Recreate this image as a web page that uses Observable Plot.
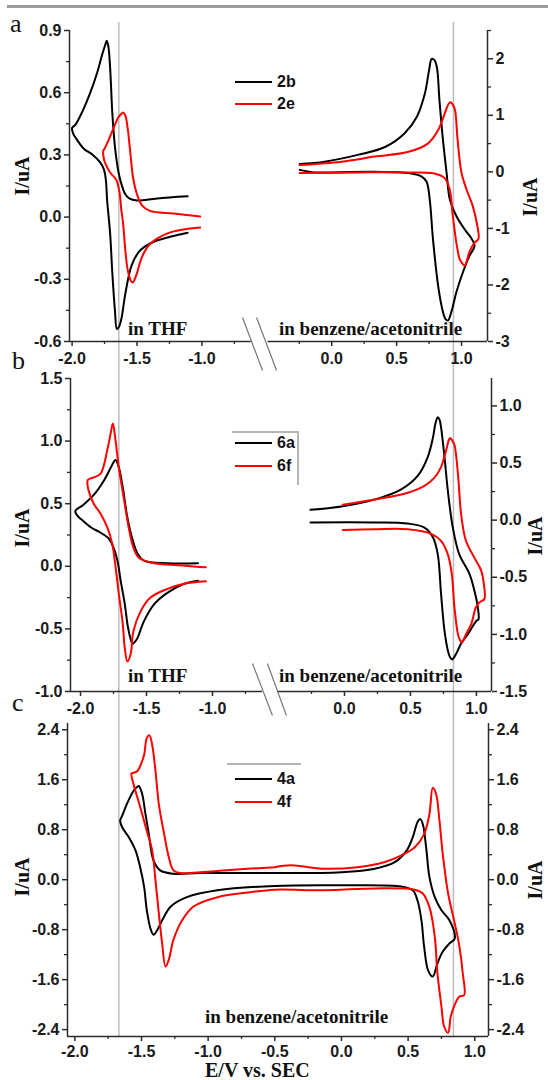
<!DOCTYPE html>
<html><head><meta charset="utf-8">
<script src="https://cdn.jsdelivr.net/npm/d3@7"></script>
<script src="https://cdn.jsdelivr.net/npm/@observablehq/plot@0.6"></script>
<style>
body{margin:0;background:#fff;}
#fig{position:relative;width:548px;height:1080px;overflow:hidden;background:#fff;}
.t{position:absolute;line-height:1;white-space:nowrap;color:#111;}
.sans{font-family:"Liberation Sans",Arial,sans-serif;font-weight:bold;}
.serif{font-family:"Liberation Serif","Times New Roman",serif;}
.ln{position:absolute;height:2px;}
</style></head><body><div id="fig"></div>
<script>
// ================= DATA =================
// reference lines (E, V)
const refLines = [-1.67, 0.84];

// ---- panel a ----
const a_xMajor = [-2.0, -1.5, -1.0, 0.0, 0.5, 1.0];
const a_xMinor = [-1.75, -1.25, -0.75, -0.25, 0.25, 0.75];
const a_yLMajor = [0.9, 0.6, 0.3, 0.0, -0.3, -0.6];
const a_yLMinor = [0.75, 0.45, 0.15, -0.15, -0.45];
const a_yRMajor = [2, 1, 0, -1, -2, -3];
const a_yRMinor = [2.5, 1.5, 0.5, -0.5, -1.5, -2.5];
const a_axisSegs = [{x1: -2.02, x2: -0.62}, {x1: -0.49, x2: 1.2}];
const a_breaks = [{x1: -0.687, y1: -0.484, x2: -0.533, y2: -0.74}, {x1: -0.579, y1: -0.484, x2: -0.425, y2: -0.74}];
// 2b (black) and 2e (red), THF side (left axis)
const a_2b_L = [[-1.11,0.10],[-1.345,0.09],[-1.50,0.08],[-1.56,0.09],[-1.59,0.11],[-1.625,0.17],[-1.645,0.225],[-1.67,0.34],[-1.69,0.50],[-1.707,0.72],[-1.72,0.82],[-1.733,0.85],[-1.745,0.83],[-1.77,0.78],[-1.81,0.69],[-1.86,0.60],[-1.92,0.51],[-1.975,0.445],[-2.0,0.43],[-1.99,0.40],[-1.975,0.385],[-1.91,0.33],[-1.84,0.30],[-1.785,0.265],[-1.755,0.23],[-1.74,0.18],[-1.73,0.08],[-1.707,-0.08],[-1.69,-0.27],[-1.67,-0.45],[-1.655,-0.54],[-1.64,-0.53],[-1.62,-0.49],[-1.59,-0.37],[-1.54,-0.23],[-1.475,-0.16],[-1.375,-0.12],[-1.245,-0.095],[-1.11,-0.075]];
const a_2e_L = [[-1.013,0.003],[-1.22,0.017],[-1.40,0.03],[-1.46,0.055],[-1.50,0.11],[-1.53,0.19],[-1.553,0.32],[-1.57,0.42],[-1.59,0.49],[-1.607,0.505],[-1.625,0.495],[-1.645,0.48],[-1.68,0.43],[-1.72,0.37],[-1.75,0.33],[-1.76,0.32],[-1.755,0.28],[-1.745,0.26],[-1.707,0.215],[-1.66,0.18],[-1.635,0.12],[-1.62,0.03],[-1.607,-0.03],[-1.59,-0.16],[-1.57,-0.26],[-1.545,-0.31],[-1.53,-0.315],[-1.515,-0.295],[-1.50,-0.27],[-1.46,-0.19],[-1.40,-0.13],[-1.27,-0.08],[-1.144,-0.06],[-1.013,-0.05]];
// benzene/acetonitrile side (right axis)
const a_2b_R = [[-0.247,0.14],[-0.054,0.18],[0.2,0.30],[0.41,0.44],[0.56,0.68],[0.655,0.97],[0.717,1.38],[0.75,1.8],[0.77,2.0],[0.79,1.98],[0.81,1.85],[0.83,1.26],[0.857,0.56],[0.885,-0.02],[0.91,-0.49],[0.96,-0.78],[1.025,-1.02],[1.08,-1.19],[1.10,-1.31],[1.06,-1.49],[1.01,-1.78],[0.96,-2.13],[0.925,-2.45],[0.895,-2.63],[0.875,-2.6],[0.857,-2.48],[0.82,-2.02],[0.78,-1.19],[0.755,-0.49],[0.73,-0.17],[0.69,-0.08],[0.59,-0.02],[0.33,0.0],[-0.05,-0.01],[-0.13,-0.01],[-0.247,0.035]];
const a_2e_R = [[-0.247,0.12],[0.075,0.18],[0.33,0.27],[0.585,0.35],[0.74,0.5],[0.82,0.74],[0.87,1.03],[0.90,1.2],[0.915,1.23],[0.935,1.18],[0.95,1.09],[0.97,0.56],[1.0,-0.02],[1.04,-0.32],[1.087,-0.61],[1.117,-0.9],[1.13,-1.19],[1.10,-1.25],[1.06,-1.42],[1.035,-1.62],[1.025,-1.66],[1.0,-1.6],[0.985,-1.54],[0.96,-1.25],[0.93,-0.72],[0.91,-0.32],[0.87,-0.11],[0.79,-0.03],[0.585,-0.01],[0.2,-0.01],[-0.247,-0.02]];

// ---- panel b ----
const b_xMajor = [-2.0, -1.5, -1.0, 0.0, 0.5, 1.0];
const b_xMinor = [-1.75, -1.25, -0.75, -0.25, 0.25, 0.75];
const b_yLMajor = [1.5, 1.0, 0.5, 0.0, -0.5, -1.0];
const b_yLMinor = [1.25, 0.75, 0.25, -0.25, -0.75];
const b_yRMajor = [1.0, 0.5, 0.0, -0.5, -1.0, -1.5];
const b_yRMinor = [0.75, 0.25, -0.25, -0.75, -1.25];
const b_axisSegs = [{x1: -2.076, x2: -0.621}, {x1: -0.508, x2: 1.114}];
const b_breaks = [{x1: -0.697, y1: -0.776, x2: -0.546, y2: -1.192}, {x1: -0.584, y1: -0.776, x2: -0.44, y2: -1.192}];
const b_6a_L = [[-1.11,0.024],[-1.34,0.024],[-1.52,0.045],[-1.567,0.10],[-1.605,0.21],[-1.645,0.39],[-1.68,0.63],[-1.71,0.79],[-1.734,0.85],[-1.75,0.83],[-1.77,0.79],[-1.82,0.69],[-1.90,0.57],[-1.98,0.49],[-2.04,0.44],[-2.02,0.40],[-2.0,0.38],[-1.92,0.31],[-1.85,0.27],[-1.785,0.22],[-1.75,0.15],[-1.72,0.045],[-1.696,-0.115],[-1.665,-0.30],[-1.64,-0.49],[-1.615,-0.60],[-1.605,-0.62],[-1.585,-0.60],[-1.567,-0.57],[-1.52,-0.44],[-1.44,-0.30],[-1.34,-0.21],[-1.215,-0.14],[-1.11,-0.115]];
const b_6f_L = [[-1.05,-0.008],[-1.215,0.005],[-1.47,0.03],[-1.56,0.07],[-1.60,0.15],[-1.635,0.31],[-1.67,0.53],[-1.71,0.79],[-1.734,1.0],[-1.755,1.14],[-1.772,1.06],[-1.797,0.93],[-1.848,0.74],[-1.90,0.71],[-1.945,0.69],[-1.94,0.61],[-1.90,0.50],[-1.848,0.42],[-1.797,0.31],[-1.76,0.18],[-1.734,-0.008],[-1.71,-0.22],[-1.68,-0.46],[-1.665,-0.65],[-1.645,-0.76],[-1.62,-0.70],[-1.60,-0.52],[-1.545,-0.36],[-1.47,-0.25],[-1.34,-0.18],[-1.215,-0.14],[-1.05,-0.12]];
const b_6a_R = [[-0.258,0.09],[-0.025,0.12],[0.227,0.18],[0.43,0.27],[0.556,0.39],[0.63,0.55],[0.67,0.72],[0.69,0.85],[0.707,0.90],[0.72,0.88],[0.732,0.81],[0.758,0.55],[0.783,0.26],[0.82,-0.06],[0.87,-0.30],[0.947,-0.47],[0.985,-0.62],[1.01,-0.76],[1.015,-0.87],[1.0,-0.88],[0.934,-1.0],[0.884,-1.08],[0.846,-1.17],[0.816,-1.22],[0.80,-1.20],[0.783,-1.14],[0.758,-0.97],[0.732,-0.65],[0.707,-0.30],[0.67,-0.15],[0.606,-0.065],[0.48,-0.03],[0.227,-0.02],[-0.258,-0.02]];
const b_6f_R = [[-0.013,0.134],[0.227,0.18],[0.48,0.24],[0.606,0.30],[0.68,0.37],[0.73,0.46],[0.77,0.61],[0.79,0.70],[0.80,0.72],[0.815,0.70],[0.833,0.66],[0.86,0.40],[0.884,0.05],[0.92,-0.18],[0.985,-0.33],[1.035,-0.44],[1.056,-0.56],[1.06,-0.69],[1.023,-0.72],[0.997,-0.76],[0.96,-0.91],[0.92,-1.0],[0.89,-1.07],[0.875,-1.05],[0.86,-1.0],[0.833,-0.76],[0.813,-0.47],[0.783,-0.30],[0.73,-0.18],[0.657,-0.12],[0.48,-0.08],[0.227,-0.08],[-0.013,-0.087]];

// ---- panel c ----
const c_xMajor = [-2.0, -1.5, -1.0, -0.5, 0.0, 0.5, 1.0];
const c_xMinor = [-1.75, -1.25, -0.75, -0.25, 0.25, 0.75];
const c_yMajor = [2.4, 1.6, 0.8, 0.0, -0.8, -1.6, -2.4];
const c_yMinor = [2.0, 1.2, 0.4, -0.4, -1.2, -2.0];
const c_4a = [[-0.50,0.106],[-1.06,0.106],[-1.26,0.095],[-1.36,0.15],[-1.41,0.31],[-1.445,0.73],[-1.47,1.05],[-1.495,1.37],[-1.52,1.50],[-1.54,1.47],[-1.56,1.42],[-1.61,1.21],[-1.645,1.02],[-1.66,0.95],[-1.645,0.84],[-1.595,0.68],[-1.545,0.47],[-1.51,0.20],[-1.48,-0.12],[-1.46,-0.49],[-1.43,-0.80],[-1.41,-0.88],[-1.38,-0.80],[-1.345,-0.65],[-1.28,-0.43],[-1.16,-0.28],[-0.93,-0.17],[-0.50,-0.10],[0.0,-0.09],[0.45,-0.11],[0.535,-0.17],[0.57,-0.33],[0.60,-0.65],[0.62,-1.07],[0.65,-1.45],[0.685,-1.55],[0.72,-1.34],[0.76,-1.15],[0.81,-1.02],[0.85,-0.94],[0.81,-0.65],[0.75,-0.49],[0.70,-0.28],[0.66,0.04],[0.635,0.52],[0.61,0.89],[0.59,0.97],[0.57,0.92],[0.535,0.68],[0.49,0.47],[0.40,0.28],[0.25,0.175],[0.0,0.12],[-0.50,0.106]];
const c_4f = [[-0.50,0.20],[-0.81,0.16],[-1.06,0.12],[-1.21,0.106],[-1.26,0.15],[-1.295,0.36],[-1.33,0.73],[-1.37,1.21],[-1.395,1.74],[-1.42,2.16],[-1.44,2.31],[-1.46,2.27],[-1.48,2.0],[-1.51,1.82],[-1.53,1.74],[-1.56,1.71],[-1.575,1.70],[-1.56,1.53],[-1.53,1.31],[-1.495,1.05],[-1.46,0.78],[-1.42,0.47],[-1.395,-0.01],[-1.37,-0.54],[-1.345,-1.02],[-1.32,-1.39],[-1.295,-1.28],[-1.26,-0.96],[-1.195,-0.65],[-1.11,-0.43],[-0.93,-0.28],[-0.68,-0.20],[-0.50,-0.16],[-0.13,-0.17],[0.25,-0.14],[0.55,-0.16],[0.61,-0.22],[0.66,-0.44],[0.70,-0.91],[0.72,-1.5],[0.75,-2.03],[0.77,-2.35],[0.80,-2.45],[0.82,-2.19],[0.85,-2.0],[0.885,-1.87],[0.92,-1.85],[0.91,-1.50],[0.885,-1.07],[0.85,-0.70],[0.80,-0.22],[0.76,0.41],[0.735,0.95],[0.71,1.37],[0.685,1.47],[0.66,1.05],[0.62,0.73],[0.55,0.52],[0.45,0.39],[0.32,0.28],[0.12,0.20],[-0.13,0.175],[-0.38,0.23],[-0.50,0.20]];

// ================= DRAWING =================
const fig = document.getElementById("fig");
const SANS = '"Liberation Sans", Arial, sans-serif';
const AX = "#2b2b2b";
const BLACK = "#000000", RED = "#ff0000";
const f1 = d => d.toFixed(1), f0 = d => d.toFixed(0);

function layer(cfg) {
  const svg = Plot.plot({
    width: 548, height: cfg.height,
    marginTop: cfg.mt, marginBottom: cfg.mb, marginLeft: cfg.ml, marginRight: cfg.mr,
    x: {domain: cfg.xDomain, axis: null},
    y: {domain: cfg.yDomain, axis: null},
    style: {background: "transparent", overflow: "visible", fontFamily: SANS, fontSize: "16px", fontWeight: "bold", color: "#1a1a1a"},
    marks: cfg.marks
  });
  svg.style.position = "absolute";
  svg.style.left = "0px";
  svg.style.top = cfg.top + "px";
  fig.appendChild(svg);
}
const yMaj = (anchor, ticks, fmt) => Plot.axisY({anchor, ticks, tickSize: 5, tickPadding: 3, tickFormat: fmt, stroke: AX, strokeWidth: 1.5, fontSize: 16, fontWeight: "bold", label: null});
const yMin = (anchor, ticks) => Plot.axisY({anchor, ticks, tickSize: 3, tickFormat: () => "", stroke: AX, strokeWidth: 1.3, label: null});
const xMaj = (ticks, pad = 6) => Plot.axisX({anchor: "bottom", ticks, tickSize: 5, tickPadding: pad, tickFormat: f1, stroke: AX, strokeWidth: 1.5, fontSize: 16, fontWeight: "bold", label: null});
const xMin = (ticks) => Plot.axisX({anchor: "bottom", ticks, tickSize: 3, tickFormat: () => "", stroke: AX, strokeWidth: 1.3, label: null});
const cv = (data, color) => Plot.line(data, {x: d => d[0], y: d => d[1], stroke: color, strokeWidth: 2, curve: "catmull-rom"});

// top rule
const bar = document.createElement("div");
bar.style.cssText = "position:absolute;left:7px;top:5px;width:541px;height:3px;background:#9a9a9a;";
fig.appendChild(bar);

// gray reference lines across the whole figure (panel c scale)
const cX = [-2.055, 1.103];
layer({top: 0, height: 1080, mt: 22, mb: 44, ml: 67, mr: 60, xDomain: cX, yDomain: [0, 1],
  marks: [Plot.ruleX(refLines, {stroke: "#bdbdbd", strokeWidth: 1.5})]});

// ---- panel a ----
const aX = [-2.02, 1.2], aYL = [-0.6, 0.9], aYR = [-3, 2.5];
const aG = {top: 0, height: 380, mt: 30, mb: 39, ml: 69, mr: 61, xDomain: aX};
layer({...aG, yDomain: aYL, marks: [
  Plot.ruleX([aX[0]], {stroke: AX, strokeWidth: 1.5}),
  Plot.ruleY(a_axisSegs, {x1: "x1", x2: "x2", y: () => aYL[0], stroke: AX, strokeWidth: 1.5}),
  Plot.link(a_breaks, {x1: "x1", y1: "y1", x2: "x2", y2: "y2", stroke: "#777", strokeWidth: 1.2}),
  yMin("left", a_yLMinor), yMaj("left", a_yLMajor, f1),
  xMin(a_xMinor), xMaj(a_xMajor),
  cv(a_2b_L, BLACK), cv(a_2e_L, RED)
]});
layer({...aG, yDomain: aYR, marks: [
  Plot.ruleX([aX[1]], {stroke: AX, strokeWidth: 1.5}),
  yMin("right", a_yRMinor), yMaj("right", a_yRMajor, f0),
  cv(a_2b_R, BLACK), cv(a_2e_R, RED)
]});

// ---- panel b ----
const bX = [-2.076, 1.114], bYL = [-1.0, 1.5], bYR = [-1.5, 1.24];
const bG = {top: 340, height: 380, mt: 38, mb: 29, ml: 70, mr: 57, xDomain: bX};
layer({...bG, yDomain: bYL, marks: [
  Plot.ruleX([bX[0]], {stroke: AX, strokeWidth: 1.5}),
  Plot.ruleY(b_axisSegs, {x1: "x1", x2: "x2", y: () => bYL[0], stroke: AX, strokeWidth: 1.5}),
  Plot.link(b_breaks, {x1: "x1", y1: "y1", x2: "x2", y2: "y2", stroke: "#777", strokeWidth: 1.2}),
  yMin("left", b_yLMinor), yMaj("left", b_yLMajor, f1),
  xMin(b_xMinor), xMaj(b_xMajor),
  cv(b_6a_L, BLACK), cv(b_6f_L, RED)
]});
layer({...bG, yDomain: bYR, marks: [
  Plot.ruleX([bX[1]], {stroke: AX, strokeWidth: 1.5}),
  yMin("right", b_yRMinor), yMaj("right", b_yRMajor, f1),
  cv(b_6a_R, BLACK), cv(b_6f_R, RED)
]});

// ---- panel c ----
const cY = [-2.51, 2.5];
layer({top: 690, height: 390, mt: 33, mb: 44, ml: 67, mr: 60, xDomain: cX, yDomain: cY, marks: [
  Plot.ruleX([cX[0]], {stroke: AX, strokeWidth: 1.5}),
  Plot.ruleX([cX[1]], {stroke: AX, strokeWidth: 1.5}),
  Plot.ruleY([cY[0]], {stroke: AX, strokeWidth: 1.5}),
  yMin("left", c_yMinor), yMaj("left", c_yMajor, f1),
  yMin("right", c_yMinor), yMaj("right", c_yMajor, f1),
  xMin(c_xMinor), xMaj(c_xMajor, 4),
  cv(c_4a, BLACK), cv(c_4f, RED)
]});

// ================= TEXT / LEGENDS =================
function txt(s, cls, left, top, size, extra = "") {
  const d = document.createElement("div");
  d.className = "t " + cls;
  d.textContent = s;
  d.style.cssText += `left:${left}px;top:${top}px;font-size:${size}px;` + extra;
  fig.appendChild(d);
  return d;
}
function vtitle(s, cx, cy) {
  txt(s, "serif", cx, cy, 20, "font-weight:bold;transform:translate(-50%,-50%) rotate(-90deg);");
}
function line(left, top, width, color, h = 2) {
  const d = document.createElement("div");
  d.className = "ln";
  d.style.cssText += `left:${left}px;top:${top}px;width:${width}px;height:${h}px;background:${color};`;
  fig.appendChild(d);
}
// panel letters (baseline ≈ top + 0.8375*size)
txt("a", "serif", 10, 33 - 0.8375 * 26, 26);
txt("b", "serif", 12, 370 - 0.8375 * 26, 26);
txt("c", "serif", 12, 712 - 0.8375 * 26, 26);

// axis titles
vtitle("I/uA", 22, 176); vtitle("I/uA", 530, 197);
vtitle("I/uA", 22, 528); vtitle("I/uA", 535, 536);
vtitle("I/uA", 22, 877); vtitle("I/uA", 535, 880);
// x title: line-height 0.85 -> baseline ≈ top + 0.7625em
txt("E/V vs. SEC", "serif", 205, 1077 - 0.7625 * 20, 20, "font-weight:bold;line-height:0.85;");

// annotations (bold serif)
const ann = (s, left, base) => txt(s, "serif", left, base - 0.8375 * 19, 19, "font-weight:bold;");
ann("in THF", 128, 335);
ann("in benzene/acetonitrile", 279, 335);
ann("in THF", 128, 682);
ann("in benzene/acetonitrile", 279, 682);
ann("in benzene/acetonitrile", 205, 1023);

// legends
const legA = [{name: "2b", color: BLACK}, {name: "2e", color: RED}];
const legB = [{name: "6a", color: BLACK}, {name: "6f", color: RED}];
const legC = [{name: "4a", color: BLACK}, {name: "4f", color: RED}];
function legend(items, y0, dy) {
  items.forEach((it, i) => {
    const cy = y0 + i * dy;
    line(235, cy - 1, 37, it.color);
    txt(it.name, "sans", 277, cy + 0.358 * 16 - 0.8465 * 16, 16);
  });
}
legend(legA, 82, 21.5);
line(232, 431, 66, "#b5b5b5", 1.5); line(297, 431, 1.5, "#b5b5b5", 54);
legend(legB, 443, 23);
line(227, 763, 74, "#b5b5b5", 1.5);
legend(legC, 779, 23);
</script></body></html>
